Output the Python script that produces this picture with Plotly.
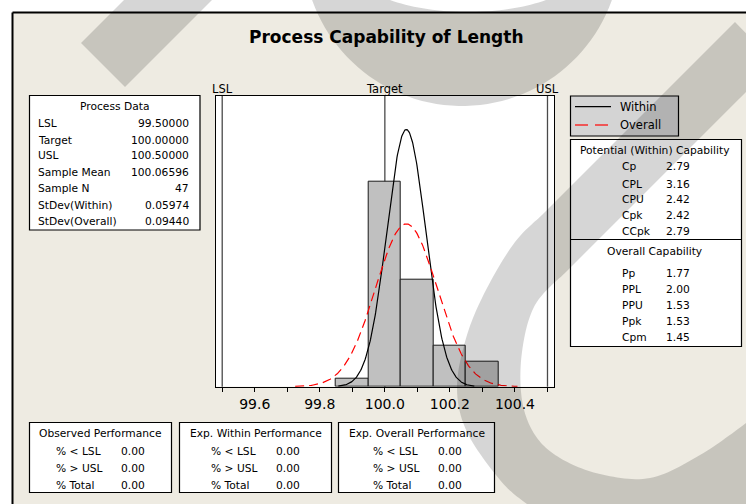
import numpy as np
import plotly.graph_objects as go

W, H = 746, 504
FONT = "DejaVu Sans"

# ---- process data -------------------------------------------------------
LSL, TARGET, USL = 99.5, 100.0, 100.5
MEAN = 100.06596
N = 47
SD_WITHIN = 0.05974
SD_OVERALL = 0.09440

bin_centers = [99.9, 100.0, 100.1, 100.2, 100.3]
bin_counts = [1, 25, 13, 5, 3]
BIN_WIDTH = 0.1

tick_values = [99.5, 99.6, 99.7, 99.8, 99.9, 100.0, 100.1, 100.2, 100.3, 100.4, 100.5]
tick_labels = ["", "99.6", "", "99.8", "", "100.0", "", "100.2", "", "100.4", ""]

process_labels = ["LSL", "Target", "USL", "Sample Mean", "Sample N",
                  "StDev(Within)", "StDev(Overall)"]
process_values = ["%.5f" % LSL, "%.5f" % TARGET, "%.5f" % USL, "%.5f" % MEAN,
                  "%d" % N, "%.5f" % SD_WITHIN, "%.5f" % SD_OVERALL]

within_labels = ["Cp", "CPL", "CPU", "Cpk", "CCpk"]
within_values = [2.79, 3.16, 2.42, 2.42, 2.79]
overall_labels = ["Pp", "PPL", "PPU", "Ppk", "Cpm"]
overall_values = [1.77, 2.00, 1.53, 1.53, 1.45]

perf_rows = ["% < LSL", "% > USL", "% Total"]
observed_perf = [0.00, 0.00, 0.00]
within_perf = [0.00, 0.00, 0.00]
overall_perf = [0.00, 0.00, 0.00]

BEIGE = "#EEEBE2"


def px(x):
    return x / W


def py(y):
    return 1 - y / H


def normal_curve(mean, sd, span):
    x = np.linspace(mean - span * sd, mean + span * sd, 300)
    y = N * BIN_WIDTH * np.exp(-0.5 * ((x - mean) / sd) ** 2) / (sd * np.sqrt(2 * np.pi))
    return x, y


fig = go.Figure()

fig.add_trace(go.Bar(
    x=bin_centers, y=bin_counts, width=BIN_WIDTH,
    marker=dict(color="#C0C0C0", line=dict(color="#1a1a1a", width=1)),
    hoverinfo="skip", showlegend=False,
))

xw, yw = normal_curve(MEAN, SD_WITHIN, 3.5)
fig.add_trace(go.Scatter(x=xw, y=yw, mode="lines",
                         line=dict(color="black", width=1.2),
                         hoverinfo="skip", showlegend=False))
xo, yo = normal_curve(MEAN, SD_OVERALL, 3.62)
fig.add_trace(go.Scatter(x=xo, y=yo, mode="lines",
                         line=dict(color="#FF0000", width=1.2, dash="9px,5px"),
                         hoverinfo="skip", showlegend=False))

shapes = []
annotations = []


def text(x, y, s, size=10.7, anchor="left", bold=False, xref="paper"):
    annotations.append(dict(
        x=x if xref != "paper" else px(x), y=py(y), xref=xref, yref="paper",
        text=s, showarrow=False, xanchor=anchor, yanchor="middle",
        font=dict(family=FONT, size=size, color="black",
                  weight="bold" if bold else "normal"),
    ))


def box(x0, y0, x1, y1, fill="white"):
    shapes.append(dict(type="rect", xref="paper", yref="paper",
                       x0=px(x0), x1=px(x1), y0=py(y1), y1=py(y0),
                       fillcolor=fill, line=dict(color="black", width=1.2),
                       layer="below"))


def hline(x0, x1, y, color="black", width=1.2):
    shapes.append(dict(type="line", xref="paper", yref="paper",
                       x0=px(x0), x1=px(x1), y0=py(y), y1=py(y),
                       line=dict(color=color, width=width)))


# page outside the frame
shapes.append(dict(type="rect", xref="paper", yref="paper", x0=0, x1=1,
                   y0=py(12), y1=1.01, fillcolor="white", line=dict(width=0),
                   layer="below"))
shapes.append(dict(type="rect", xref="paper", yref="paper", x0=-0.01, x1=px(13),
                   y0=-0.01, y1=1.01, fillcolor="white", line=dict(width=0),
                   layer="below"))
shapes.append(dict(type="line", xref="paper", yref="paper",
                   x0=px(12.5), x1=1.01, y0=py(12.5), y1=py(12.5),
                   line=dict(color="black", width=2)))
shapes.append(dict(type="line", xref="paper", yref="paper",
                   x0=px(12.5), x1=px(12.5), y0=-0.01, y1=py(12.5),
                   line=dict(color="black", width=2)))

# specification and target reference lines
for v in (LSL, USL, TARGET):
    shapes.append(dict(type="line", xref="x", yref="y domain", x0=v, x1=v,
                       y0=0, y1=1, line=dict(color="#4a4a4a", width=1.3),
                       layer="below"))

text(386, 37.5, "Process Capability of Length", size=17, anchor="center", bold=True)
for v, lab in ((LSL, "LSL"), (TARGET, "Target"), (USL, "USL")):
    text(v, 88.5, lab, size=11.5, anchor="center", xref="x")

# Process Data table
box(29.5, 95.5, 200, 230)
text(114.5, 106, "Process Data", anchor="center")
for yy, lab, val in zip([123, 140, 155.5, 172, 188.5, 205.5, 221],
                        process_labels, process_values):
    text(35.5, yy, lab)
    text(190.5, yy, val, anchor="right")

# legend
box(570.5, 96, 678.5, 136, fill="#D4D4D4")
hline(575, 611, 106.7, "black", 1.2)
hline(575, 588, 125, "#FF0000", 1.2)
hline(595, 608, 125, "#FF0000", 1.2)
text(617.5, 106.7, "Within", size=11.5)
text(617.5, 125, "Overall", size=11.5)

# capability statistics
box(570.5, 139.5, 741.5, 346.5)
hline(570.5, 741.5, 239.5, "black", 1.2)
text(654.5, 150.7, "Potential (Within) Capability", anchor="center")
for yy, lab, val in zip([167, 184, 199.3, 215.8, 231.5], within_labels, within_values):
    text(620, yy, lab)
    text(664, yy, "%.2f" % val)
text(654.5, 251.5, "Overall Capability", anchor="center")
for yy, lab, val in zip([273, 289.5, 305, 321.7, 337.7], overall_labels, overall_values):
    text(620, yy, lab)
    text(664, yy, "%.2f" % val)

# performance tables
perf_boxes = [
    ((29.5, 171.5), "Observed Performance", observed_perf, 54, 119),
    ((179.5, 331.5), "Exp. Within Performance", within_perf, 209, 274),
    ((338.5, 494.5), "Exp. Overall Performance", overall_perf, 370.5, 435.5),
]
for (bx0, bx1), title, vals, lx, vx in perf_boxes:
    box(bx0, 422.5, bx1, 492.5)
    text((bx0 + bx1) / 2, 433.5, title, anchor="center")
    for yy, lab, val in zip([451, 468.3, 485], perf_rows, vals):
        text(lx, yy, lab)
        text(vx, yy, "%.2f" % val)


# ---- translucent watermark bands ------------------------------------------
def catmull(pts, n=14):
    P = [pts[0]] + list(pts) + [pts[-1]]
    out = []
    for i in range(1, len(P) - 2):
        p0, p1, p2, p3 = (np.array(p, float) for p in P[i - 1:i + 3])
        for t in np.linspace(0, 1, n, endpoint=False):
            out.append(tuple(0.5 * (2 * p1 + (-p0 + p2) * t
                                    + (2 * p0 - 5 * p1 + 4 * p2 - p3) * t * t
                                    + (-p0 + 3 * p1 - 3 * p2 + p3) * t ** 3)))
    out.append(tuple(pts[-1]))
    return out


def band_path(points):
    segs = ["%s%.5f,%.5f" % ("M" if i == 0 else "L", px(x), py(y))
            for i, (x, y) in enumerate(points)]
    return " ".join(segs) + " Z"


band_a = [(81, 43), (125, 87), (325, -113), (281, -157)]

th_o = np.radians(np.linspace(168, 12, 60))
outer_b = [(462 + 159 * np.cos(t), -53 + 159 * np.sin(t)) for t in th_o]
th_i = np.radians(np.linspace(22.6, 157.4, 60))
inner_b = [(468 + 122 * np.cos(t), -40 + 52 * np.sin(t)) for t in th_i]
band_b = outer_b + inner_b

outer_c = catmull([(542, 215), (515, 242), (487, 288), (467, 335), (457, 387),
                   (467, 432), (500, 480), (527, 504), (560, 525), (620, 545)])
inner_c = catmull([(760, 410), (746, 423), (700, 455), (650, 478), (600, 474),
                   (560, 458), (535, 435), (522, 400), (522, 352), (535, 305),
                   (566, 272)])
band_c = [(735, 22)] + outer_c + [(780, 545), (780, 410)] + inner_c + [(740, 98), (775, 63)]

for pts in (band_a, band_b, band_c):
    shapes.append(dict(type="path", xref="paper", yref="paper",
                       path=band_path(pts), fillcolor="rgba(0,0,0,0.16)",
                       line=dict(width=0), layer="above"))

fig.update_layout(
    width=W, height=H,
    margin=dict(l=0, r=0, t=0, b=0),
    paper_bgcolor=BEIGE, plot_bgcolor="white",
    bargap=0, showlegend=False,
    font=dict(family=FONT, color="black"),
    xaxis=dict(domain=[px(215.7), px(554)], range=[99.48, 100.52],
               tickmode="array", tickvals=tick_values, ticktext=tick_labels,
               ticks="outside", ticklen=4, tickwidth=1, tickcolor="black",
               tickfont=dict(family=FONT, size=14, color="black"),
               showline=True, linecolor="black", linewidth=1.3, mirror=True,
               showgrid=False, zeroline=False, fixedrange=True),
    yaxis=dict(domain=[py(386.7), py(95.7)], range=[0, 35.5],
               showticklabels=False, ticks="", showgrid=False, zeroline=False,
               showline=True, linecolor="black", linewidth=1, mirror=True,
               fixedrange=True),
    shapes=shapes, annotations=annotations,
)

fig.write_html("out.html")
